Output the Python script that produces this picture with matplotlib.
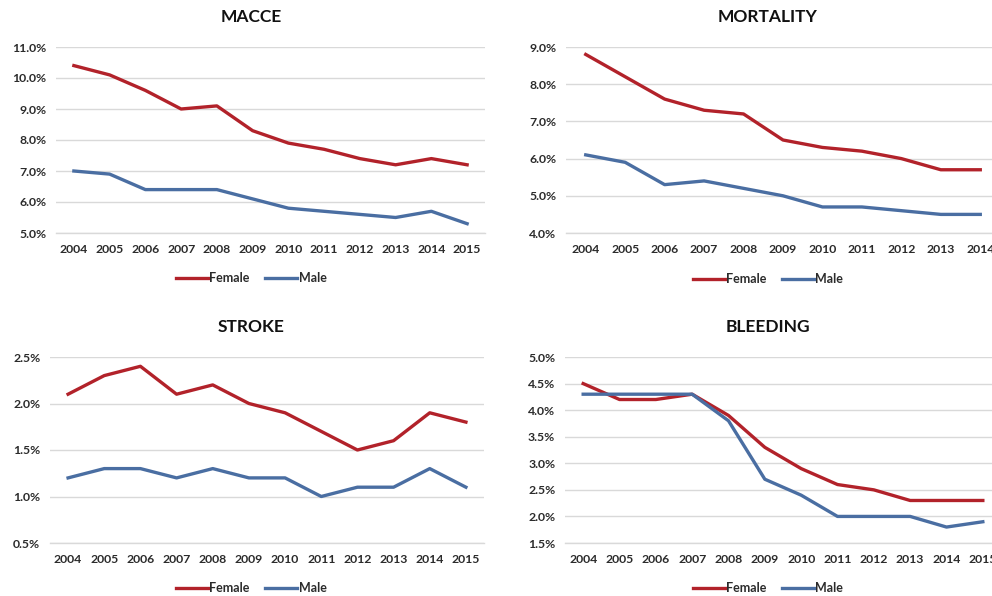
import matplotlib
matplotlib.use("Agg")
import matplotlib.pyplot as plt
from matplotlib.ticker import FuncFormatter, MultipleLocator

plt.rcParams['font.family'] = ['Lato', 'DejaVu Sans']

years_12 = ['2004', '2005', '2006', '2007', '2008', '2009', '2010', '2011', '2012', '2013', '2014', '2015']
years_11 = years_12[:11]

macce_female = [10.4, 10.1, 9.6, 9.0, 9.1, 8.3, 7.9, 7.7, 7.4, 7.2, 7.4, 7.2]
macce_male = [7.0, 6.9, 6.4, 6.4, 6.4, 6.1, 5.8, 5.7, 5.6, 5.5, 5.7, 5.3]

mort_female = [8.8, 8.2, 7.6, 7.3, 7.2, 6.5, 6.3, 6.2, 6.0, 5.7, 5.7]
mort_male = [6.1, 5.9, 5.3, 5.4, 5.2, 5.0, 4.7, 4.7, 4.6, 4.5, 4.5]

stroke_female = [2.1, 2.3, 2.4, 2.1, 2.2, 2.0, 1.9, 1.7, 1.5, 1.6, 1.9, 1.8]
stroke_male = [1.2, 1.3, 1.3, 1.2, 1.3, 1.2, 1.2, 1.0, 1.1, 1.1, 1.3, 1.1]

bleed_female = [4.5, 4.2, 4.2, 4.3, 3.9, 3.3, 2.9, 2.6, 2.5, 2.3, 2.3, 2.3]
bleed_male = [4.3, 4.3, 4.3, 4.3, 3.8, 2.7, 2.4, 2.0, 2.0, 2.0, 1.8, 1.9]

RED = '#B2222A'
BLUE = '#4A6EA2'
TXT = '#2b2b2b'
GRID = '#D9D9D9'

W, H = 992, 596
fig = plt.figure(figsize=(W / 100, H / 100), dpi=100)
fig.patch.set_facecolor('white')


def px_axes(left, right, top, bottom):
    return fig.add_axes([left / W, (H - bottom) / H, (right - left) / W, (bottom - top) / H])


panels = [
    ('MACCE', years_12, macce_female, macce_male, (56, 485, 47, 233), (5.0, 11.0), 1.0, (251, 17), '{:.1f}%', 278),
    ('MORTALITY', years_11, mort_female, mort_male, (566, 1000, 47, 233), (4.0, 9.0), 1.0, (768, 17), '{:.1f}%', 279),
    ('STROKE', years_12, stroke_female, stroke_male, (50, 484, 357, 543), (0.5, 2.5), 0.5, (251, 327), '{:.1f}%', 588),
    ('BLEEDING', years_12, bleed_female, bleed_male, (565, 1001, 357, 543), (1.5, 5.0), 0.5, (768, 327), '{:.1f}%', 588),
]

for title, yrs, fem, mal, box, ylim, step, tpos, fmt, ly in panels:
    ax = px_axes(*box)
    x = list(range(len(yrs)))
    ax.plot(x, fem, color=RED, lw=2.4, label='Female', solid_joinstyle='round', clip_on=False)
    ax.plot(x, mal, color=BLUE, lw=2.4, label='Male', solid_joinstyle='round', clip_on=False)
    ax.set_xlim(-0.5, len(yrs) - 0.5)
    ax.set_ylim(*ylim)
    ax.yaxis.set_major_locator(MultipleLocator(step))
    ax.yaxis.set_major_formatter(FuncFormatter(lambda v, p, f=fmt: f.format(v)))
    ax.set_xticks(x)
    ax.set_xticklabels(yrs)
    ax.grid(axis='y', color=GRID, lw=1.0)
    ax.set_axisbelow(True)
    for s in ['top', 'right', 'left']:
        ax.spines[s].set_visible(False)
    ax.spines['bottom'].set_color(GRID)
    ax.spines['bottom'].set_linewidth(1.0)
    ax.tick_params(axis='both', length=0, labelsize=8.8, labelcolor=TXT)
    ax.tick_params(axis='x', pad=8)
    ax.tick_params(axis='y', pad=7)
    for lab in ax.get_xticklabels() + ax.get_yticklabels():
        lab.set_fontweight('bold')
    fig.text(tpos[0] / W, (H - tpos[1]) / H, title, ha='center', va='center',
             fontsize=12.5, fontweight='bold', color='#111111')
    leg = ax.legend(loc='center', bbox_to_anchor=(tpos[0] / W, (H - ly) / H),
                    bbox_transform=fig.transFigure, ncol=2, frameon=False,
                    handlelength=2.6, handletextpad=0.1, columnspacing=1.2,
                    prop={'size': 9, 'weight': 'bold'})
    for t in leg.get_texts():
        t.set_color(TXT)

fig.savefig('out.png', dpi=100)
